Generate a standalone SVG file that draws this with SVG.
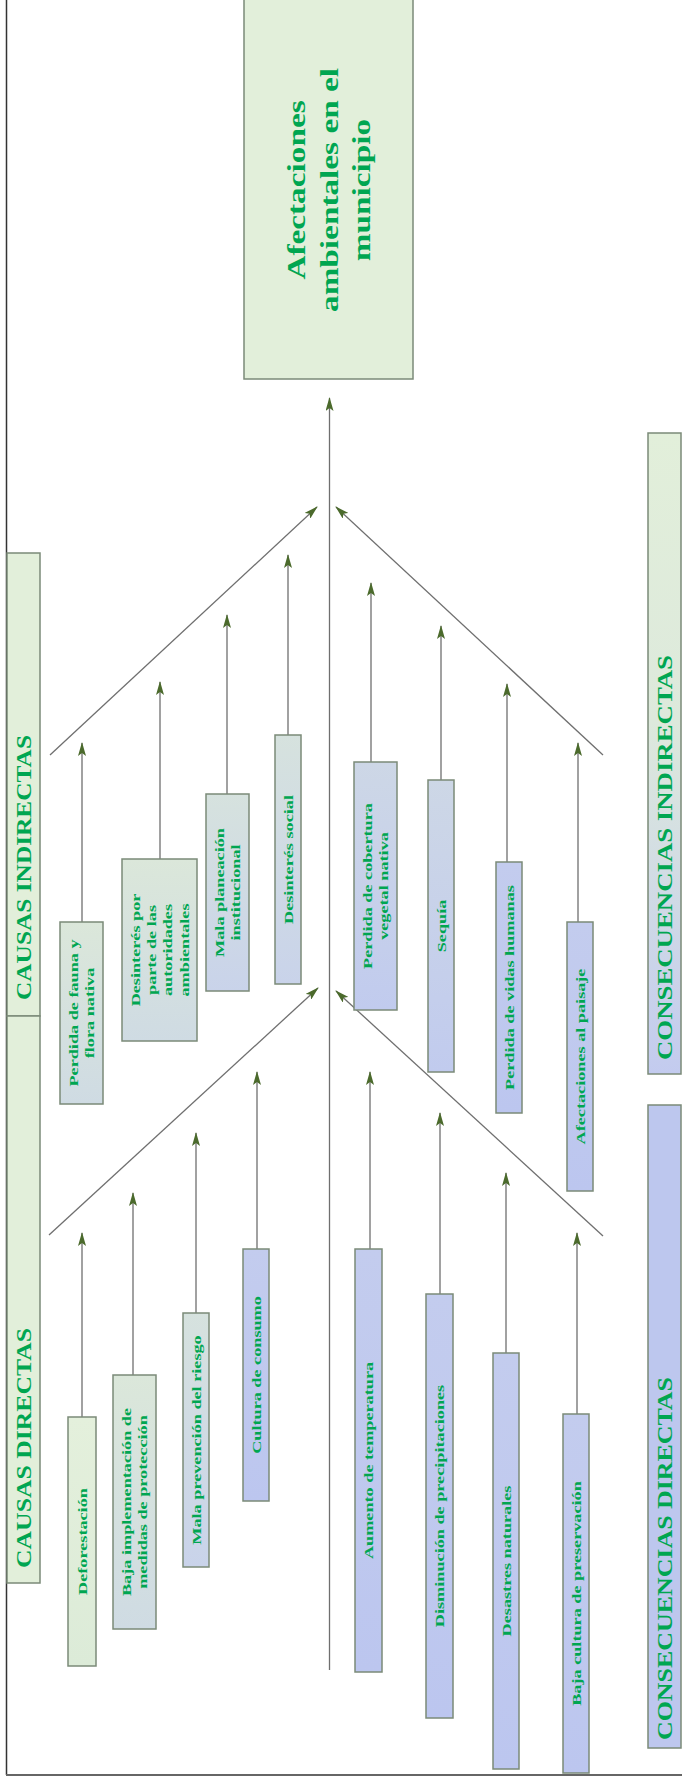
<svg xmlns="http://www.w3.org/2000/svg" width="682" height="1783" viewBox="0 0 682 1783">
<style>
.b{stroke:#7b8a78;stroke-width:1.5}
.t{font-family:"Liberation Serif","Times New Roman",serif;font-weight:bold;fill:#00a651;font-size:13.5px;text-anchor:middle}
.h{font-family:"Liberation Serif","Times New Roman",serif;font-weight:bold;fill:#00a651;font-size:21px;text-anchor:start}
.ttl{font-family:"Liberation Serif","Times New Roman",serif;font-weight:bold;fill:#00a651;font-size:26px;text-anchor:middle}
.ln{stroke:#6f6f6f;stroke-width:1.3;fill:none}
.ar{marker-end:url(#ah)}
</style>
<defs>
<marker id="ah" viewBox="0 0 14 8" markerWidth="14" markerHeight="8" refX="13" refY="4" orient="auto" markerUnits="userSpaceOnUse">
<path d="M0,0 L14,4 L0,8 L3,4 Z" fill="#4b6a2c"/>
</marker>
<linearGradient id="gMixA" x1="0" y1="0" x2="0" y2="1"><stop offset="0" stop-color="#dbe7da"/><stop offset="1" stop-color="#cfdbe3"/></linearGradient>
<linearGradient id="gMixB" x1="0" y1="0" x2="0" y2="1"><stop offset="0" stop-color="#d6e2de"/><stop offset="1" stop-color="#c9d3ea"/></linearGradient>
<linearGradient id="gBlueA" x1="0" y1="0" x2="0" y2="1"><stop offset="0" stop-color="#cdd7e6"/><stop offset="1" stop-color="#c1cbee"/></linearGradient>
<linearGradient id="gBlue" x1="0" y1="0" x2="0" y2="1"><stop offset="0" stop-color="#c3ccee"/><stop offset="1" stop-color="#bcc6ef"/></linearGradient>
<linearGradient id="gGreen" x1="0" y1="0" x2="0" y2="1"><stop offset="0" stop-color="#e4f0dc"/><stop offset="1" stop-color="#dcebd8"/></linearGradient>
<linearGradient id="gHead" x1="0" y1="0" x2="0" y2="1"><stop offset="0" stop-color="#e2efda"/><stop offset="0.45" stop-color="#dde9dc"/><stop offset="1" stop-color="#c3cbef"/></linearGradient>
</defs>

<g id="border">
<line x1="6.5" y1="0" x2="6.5" y2="1775" stroke="#333" stroke-width="1.5"/>
<line x1="6" y1="1775" x2="682" y2="1775" stroke="#666" stroke-width="2"/>
</g>

<g id="connectors">
<line class="ln ar" x1="329.5" y1="1670" x2="329.5" y2="398"/>
<line class="ln ar" x1="50" y1="755" x2="317" y2="507"/>
<line class="ln ar" x1="603" y1="755" x2="336" y2="507"/>
<line class="ln ar" x1="49" y1="1235" x2="318" y2="988"/>
<line class="ln ar" x1="603" y1="1236" x2="336" y2="991"/>
<line class="ln ar" x1="82" y1="922" x2="82" y2="743"/>
<line class="ln ar" x1="160" y1="859" x2="160" y2="682"/>
<line class="ln ar" x1="227" y1="794" x2="227" y2="615"/>
<line class="ln ar" x1="288" y1="735" x2="288" y2="555"/>
<line class="ln ar" x1="371" y1="762" x2="371" y2="583"/>
<line class="ln ar" x1="441" y1="780" x2="441" y2="626"/>
<line class="ln ar" x1="507" y1="862" x2="507" y2="684"/>
<line class="ln ar" x1="578" y1="922" x2="578" y2="743"/>
<line class="ln ar" x1="82" y1="1417" x2="82" y2="1233"/>
<line class="ln ar" x1="133" y1="1375" x2="133" y2="1193"/>
<line class="ln ar" x1="196" y1="1313" x2="196" y2="1133"/>
<line class="ln ar" x1="257" y1="1249" x2="257" y2="1072"/>
<line class="ln ar" x1="370" y1="1249" x2="370" y2="1072"/>
<line class="ln ar" x1="440" y1="1294" x2="440" y2="1113"/>
<line class="ln ar" x1="506" y1="1353" x2="506" y2="1173"/>
<line class="ln ar" x1="577" y1="1414" x2="577" y2="1233"/>
</g>

<g id="n-main">
<rect x="244" y="-2" width="169" height="381" fill="#e2efda" class="b"/>
<text class="ttl" transform="translate(328.5,190) rotate(-90) scale(1.28,1)"><tspan x="0" y="-23.5">Afectaciones</tspan><tspan x="0" y="9">ambientales en el</tspan><tspan x="0" y="41.5">municipio</tspan></text>
</g>

<g id="h-causas-indirectas">
<rect x="7" y="553" width="33" height="463" fill="#e2efda" class="b"/>
<text class="h" transform="translate(23.5,1000) rotate(-90)" y="7.4" textLength="265" lengthAdjust="spacingAndGlyphs">CAUSAS INDIRECTAS</text>
</g>
<g id="h-causas-directas">
<rect x="7" y="1016" width="33" height="567" fill="#e2efda" class="b"/>
<text class="h" transform="translate(23.5,1568) rotate(-90)" y="7.4" textLength="240" lengthAdjust="spacingAndGlyphs">CAUSAS DIRECTAS</text>
</g>
<g id="h-consecuencias-indirectas">
<rect x="648" y="433" width="33" height="641" fill="url(#gHead)" class="b"/>
<text class="h" transform="translate(664.5,1060) rotate(-90)" y="7.4" textLength="405" lengthAdjust="spacingAndGlyphs">CONSECUENCIAS INDIRECTAS</text>
</g>
<g id="h-consecuencias-directas">
<rect x="648" y="1105" width="33" height="643" fill="#bdc7ee" class="b"/>
<text class="h" transform="translate(664.5,1740) rotate(-90)" y="7.4" textLength="363" lengthAdjust="spacingAndGlyphs">CONSECUENCIAS DIRECTAS</text>
</g>

<g id="n-fauna">
<rect x="60" y="922" width="43" height="182" fill="url(#gMixA)" class="b"/>
<text class="t" transform="translate(81.5,1013) rotate(-90) scale(1.35,1)"><tspan x="0" y="-3.6">Perdida de fauna y</tspan><tspan x="0" y="12.9">flora nativa</tspan></text>
</g>
<g id="n-desinteres-autoridades">
<rect x="122" y="859" width="75" height="182" fill="url(#gMixA)" class="b"/>
<text class="t" transform="translate(159.5,950) rotate(-90) scale(1.35,1)"><tspan x="0" y="-20">Desinterés por</tspan><tspan x="0" y="-3.5">parte de las</tspan><tspan x="0" y="13">autoridades</tspan><tspan x="0" y="29.5">ambientales</tspan></text>
</g>
<g id="n-planeacion">
<rect x="206" y="794" width="43" height="197" fill="url(#gMixB)" class="b"/>
<text class="t" transform="translate(227.5,892.5) rotate(-90) scale(1.35,1)"><tspan x="0" y="-3.6">Mala planeación</tspan><tspan x="0" y="12.9">institucional</tspan></text>
</g>
<g id="n-desinteres-social">
<rect x="275" y="735" width="26" height="249" fill="url(#gMixB)" class="b"/>
<text class="t" transform="translate(288,859.5) rotate(-90) scale(1.35,1)" y="4.7">Desinterés social</text>
</g>
<g id="n-cobertura">
<rect x="354" y="762" width="43" height="248" fill="url(#gBlueA)" class="b"/>
<text class="t" transform="translate(375.5,886) rotate(-90) scale(1.35,1)"><tspan x="0" y="-3.6">Perdida de cobertura</tspan><tspan x="0" y="12.9">vegetal nativa</tspan></text>
</g>
<g id="n-sequia">
<rect x="428" y="780" width="26" height="292" fill="url(#gBlueA)" class="b"/>
<text class="t" transform="translate(441,926) rotate(-90) scale(1.35,1)" y="4.7">Sequía</text>
</g>
<g id="n-vidas">
<rect x="496" y="862" width="26" height="251" fill="url(#gBlue)" class="b"/>
<text class="t" transform="translate(509,987.5) rotate(-90) scale(1.35,1)" y="4.7">Perdida de vidas humanas</text>
</g>
<g id="n-paisaje">
<rect x="567" y="922" width="26" height="269" fill="url(#gBlue)" class="b"/>
<text class="t" transform="translate(580,1056.5) rotate(-90) scale(1.35,1)" y="4.7">Afectaciones al paisaje</text>
</g>

<g id="n-deforestacion">
<rect x="68" y="1417" width="28" height="249" fill="url(#gGreen)" class="b"/>
<text class="t" transform="translate(82,1541.5) rotate(-90) scale(1.35,1)" y="4.7">Deforestación</text>
</g>
<g id="n-baja-implementacion">
<rect x="113" y="1375" width="43" height="254" fill="url(#gMixA)" class="b"/>
<text class="t" transform="translate(134.5,1502) rotate(-90) scale(1.35,1)"><tspan x="0" y="-3.6">Baja implementación de</tspan><tspan x="0" y="12.9">medidas de protección</tspan></text>
</g>
<g id="n-mala-prevencion">
<rect x="183" y="1313" width="26" height="254" fill="url(#gMixB)" class="b"/>
<text class="t" transform="translate(196,1440) rotate(-90) scale(1.35,1)" y="4.7">Mala prevención del riesgo</text>
</g>
<g id="n-cultura-consumo">
<rect x="243" y="1249" width="26" height="252" fill="url(#gBlue)" class="b"/>
<text class="t" transform="translate(256,1375) rotate(-90) scale(1.35,1)" y="4.7">Cultura  de consumo</text>
</g>
<g id="n-temperatura">
<rect x="355" y="1249" width="27" height="423" fill="url(#gBlue)" class="b"/>
<text class="t" transform="translate(368.5,1460.5) rotate(-90) scale(1.35,1)" y="4.7">Aumento de temperatura</text>
</g>
<g id="n-precipitaciones">
<rect x="426" y="1294" width="27" height="424" fill="url(#gBlue)" class="b"/>
<text class="t" transform="translate(439.5,1506) rotate(-90) scale(1.35,1)" y="4.7">Disminución de precipitaciones</text>
</g>
<g id="n-desastres">
<rect x="493" y="1353" width="26" height="416" fill="url(#gBlue)" class="b"/>
<text class="t" transform="translate(506,1561) rotate(-90) scale(1.35,1)" y="4.7">Desastres naturales</text>
</g>
<g id="n-preservacion">
<rect x="563" y="1414" width="26" height="359" fill="url(#gBlue)" class="b"/>
<text class="t" transform="translate(576,1593.5) rotate(-90) scale(1.35,1)" y="4.7">Baja cultura de preservación</text>
</g>
</svg>
